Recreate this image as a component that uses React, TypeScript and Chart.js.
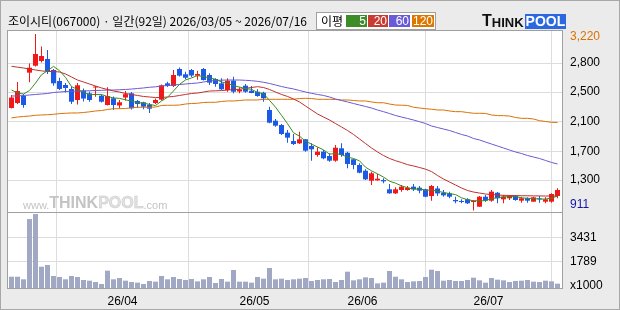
import React, { useEffect, useRef } from "react";
import { Chart, registerables } from "chart.js";

Chart.register(...registerables);

// ---------- data ----------
const titleText = "조이시티(067000) · 일간(92일) 2026/03/05 ~ 2026/07/16";
const legendTitle = "이평";
const maLabels = ["5", "20", "60", "120"];

const monthTickIndex = [19, 41, 59, 80];
const monthTickLabels = ["26/04", "26/05", "26/06", "26/07"];

const opens = [2252,2317,2409,2714,2805,2867,2893,2749,2605,2553, 2501,2357,2481,2444,2520,2413,2291,2379,2285,2389, 2444,2344,2327,2295,2317,2361,2575,2540,2762,2693, 2749,2675,2762,2684,2631,2575,2487,2609,2468,2544, 2478,2465,2452,2226,2086,2030,1929,1820,1790,1843, 1755,1637,1681,1624,1563,1725,1667,1581,1507,1432, 1301,1306,1310,1189,1136,1180,1180,1223,1210,1189, 1101,1200,1144,1136,1049,1036,1058,1023,961,1092, 1040,1144,1058,1071,1101,1040,1071,1027,1071,1027, 1027,1101];
const highs = [2422,2592,2435,2834,3220,3057,3011,2762,2648,2579, 2533,2579,2507,2468,2540,2429,2523,2403,2357,2474, 2461,2357,2334,2317,2376,2559,2596,2749,2782,2727, 2762,2740,2775,2706,2640,2640,2640,2661,2523,2566, 2540,2497,2465,2269,2108,2043,1964,1912,1942,1847, 1790,1738,1703,1659,1768,1790,1681,1585,1529,1450, 1419,1389,1332,1258,1215,1245,1232,1258,1232,1197, 1245,1232,1180,1158,1092,1058,1071,1045,1101,1114, 1180,1153,1114,1114,1114,1092,1084,1092,1101,1084, 1136,1202];
const lows = [2246,2304,2256,2588,2795,2847,2697,2544,2487,2455, 2304,2298,2337,2334,2400,2324,2285,2226,2246,2350, 2232,2252,2236,2187,2304,2350,2527,2527,2664,2628, 2658,2622,2612,2553,2531,2487,2465,2444,2444,2452, 2444,2400,2334,2052,2008,1899,1798,1768,1781,1681, 1563,1615,1581,1550,1550,1615,1463,1450,1398,1310, 1245,1301,1267,1130,1127,1158,1171,1167,1136,1084, 1040,1101,1092,1071,1006,1006,997,911,961,1027, 1027,1006,1006,1049,1040,1014,1014,1027,1014,1006, 1014,1071];
const closes = [2389,2474,2291,2779,2958,2932,2736,2575,2501,2514, 2334,2549,2376,2357,2531,2334,2409,2291,2327,2433, 2248,2304,2269,2243,2357,2549,2540,2684,2675,2648, 2677,2697,2618,2583,2566,2497,2609,2465,2494,2465, 2448,2409,2379,2060,2021,1912,1864,1781,1843,1694, 1712,1681,1594,1563,1733,1637,1520,1507,1406,1319, 1398,1327,1293,1136,1189,1223,1210,1189,1171,1092, 1232,1135,1110,1092,1032,1023,1006,1040,1092,1040, 1158,1071,1092,1101,1049,1071,1040,1084,1058,1058, 1127,1180];
// volume in thousands
const volumes = [766,766,590,4680,5020,1445,1560,814,746,590, 814,746,542,497,407,271,1175,590,678,497, 407,362,271,475,430,814,590,746,610,542, 610,452,590,746,340,610,430,1220,430,430, 362,746,633,1356,590,633,542,590,633,678, 475,542,590,610,407,542,1107,520,590,723, 678,316,362,1152,766,590,407,452,475,746, 1243,1152,497,542,475,475,542,701,520,362, 678,565,520,407,475,497,542,430,407,497, 452,294];

const ma5 = [2487,2450,2435,2480,2578,2687,2739,2796,2740,2652, 2532,2495,2455,2426,2429,2429,2401,2384,2378,2359, 2342,2321,2316,2299,2284,2344,2392,2475,2561,2619, 2645,2676,2663,2645,2628,2592,2575,2544,2526,2506, 2496,2456,2439,2352,2263,2156,2047,1928,1884,1819, 1779,1742,1705,1649,1657,1642,1609,1592,1561,1478, 1430,1391,1349,1295,1269,1234,1210,1189,1196,1177, 1179,1164,1148,1132,1120,1078,1053,1039,1039,1040, 1067,1080,1091,1092,1094,1077,1071,1069,1060,1062, 1073,1101];
const ma20 = [2797,2786,2775,2762,2749,2738,2729,2729,2723,2697, 2658,2618,2592,2566,2540,2514,2494,2474,2461,2442, 2429,2416,2403,2396,2389,2389,2396,2403,2416,2429, 2442,2448,2461,2474,2477,2480,2487,2493,2497,2510, 2520,2531,2520,2494,2461,2429,2403,2370,2331,2278, 2226,2174,2134,2095,2049,2004,1958,1906,1847,1788, 1729,1677,1631,1592,1563,1539,1511,1494,1474,1452, 1421,1369,1323,1284,1245,1206,1173,1153,1140,1127, 1121,1114,1110,1108,1106,1105,1104,1103,1102,1101, 1101,1100];
const ma60 = [2409,2409,2416,2422,2429,2435,2442,2455,2461,2468, 2471,2474,2474,2478,2481,2483,2487,2487,2491,2494, 2500,2507,2514,2523,2529,2540,2546,2553,2559,2566, 2573,2579,2592,2605,2612,2616,2618,2618,2618,2614, 2609,2601,2588,2573,2553,2533,2516,2501,2481,2461, 2444,2429,2416,2396,2370,2350,2331,2311,2291,2272, 2252,2226,2204,2180,2154,2134,2115,2095,2073,2049, 2017,1997,1977,1958,1932,1906,1886,1853,1834,1807, 1781,1755,1729,1703,1677,1657,1631,1611,1592,1566, 1540,1520];
const ma120 = [2122,2134,2141,2147,2157,2161,2164,2170,2178,2183, 2187,2187,2193,2202,2213,2219,2232,2243,2243,2246, 2255,2262,2262,2262,2265,2285,2288,2288,2291,2304, 2311,2314,2324,2327,2327,2337,2344,2344,2350,2357, 2357,2357,2366,2366,2366,2366,2366,2366,2376,2379, 2376,2366,2366,2366,2363,2357,2357,2350,2344,2344, 2331,2321,2321,2304,2291,2289,2285,2262,2252,2243, 2236,2226,2226,2213,2204,2204,2193,2183,2183,2181, 2161,2152,2152,2147,2128,2117,2117,2108,2086,2076, 2065,2063];

// grid positions of the price axis; the original prints them rounded to 100
const priceTickValues = [2840, 2460, 2070, 1680, 1310];
const priceTickLabels = ["2,800", "2,500", "2,100", "1,700", "1,300"];
const priceMax = 3220;
const priceMaxLabel = "3,220";
const priceMin = 911;
const priceMinLabel = "911";
const volumeTickValues = [3431, 1789];
const volumeTickLabels = ["3431", "1789"];
const volumeUnitLabel = "x1000";

// ---------- styles ----------
const UP = "#f01818";
const DOWN = "#1a5ae6";
const MA_COLORS = ["#3c8c1e", "#c0302c", "#6a5ad2", "#dc7000"];
const LEGEND_COLORS = ["#3c8c28", "#c83c32", "#6a5ad8", "#dc7800"];
const VOL_COLOR = "#a0a8c4";
const GRID = "#dcdcdc";
const BORDER = "#a0a0a0";
const AXIS_FAMILY = '"Liberation Sans", Arial, sans-serif';
const KR_FAMILY = '"Noto Sans CJK KR", "Noto Sans", sans-serif';

const X_MIN = -1 / 12;
const X_MAX = 92.25;

function frameRect(chart: any) {
  const { ctx, chartArea: a } = chart;
  ctx.save();
  ctx.strokeStyle = BORDER;
  ctx.lineWidth = 1;
  ctx.strokeRect(a.left - 0.5, a.top - 0.5, a.right - a.left + 1, a.bottom - a.top + 1);
  ctx.restore();
}

export default function App() {
  const priceRef = useRef<HTMLCanvasElement>(null);
  const volRef = useRef<HTMLCanvasElement>(null);

  useEffect(() => {
    const idx = closes.map((_, i) => i);
    const candleColors = idx.map((i) => (closes[i] >= opens[i] ? UP : DOWN));
    const xs = idx.map((i) => i + 0.5);
    const maSeries = [ma5, ma20, ma60, ma120];

    const priceExtras = {
      id: "priceExtras",
      afterDraw(chart: any) {
        const { ctx, chartArea: a, scales } = chart;
        const y = scales.y;
        ctx.save();
        ctx.font = `12px ${AXIS_FAMILY}`;
        ctx.textBaseline = "middle";
        ctx.textAlign = "left";
        ctx.fillStyle = "#dc7000";
        ctx.fillText(priceMaxLabel, a.right + 8, Math.max(y.getPixelForValue(priceMax), a.top + 6));
        ctx.fillStyle = "#1414a8";
        ctx.fillText(priceMinLabel, a.right + 8, Math.min(y.getPixelForValue(priceMin), a.bottom - 7));
        ctx.restore();
        frameRect(chart);
      },
    };

    const volExtras = {
      id: "volExtras",
      afterDraw(chart: any) {
        const { ctx, chartArea: a } = chart;
        ctx.save();
        ctx.font = `12px ${AXIS_FAMILY}`;
        ctx.textBaseline = "middle";
        ctx.textAlign = "left";
        ctx.fillStyle = "#000";
        ctx.fillText(volumeUnitLabel, a.right + 8, a.bottom - 2);
        ctx.restore();
        frameRect(chart);
      },
    };

    const xScaleBase = (showLabels: boolean, height: number) => ({
      type: "linear" as const,
      min: X_MIN,
      max: X_MAX,
      offset: false,
      afterBuildTicks: (s: any) => {
        s.ticks = monthTickIndex.map((v) => ({ value: v }));
      },
      afterFit: (s: any) => {
        s.height = height;
      },
      ticks: {
        display: showLabels,
        autoSkip: false,
        maxRotation: 0,
        padding: 6,
        color: "#000",
        font: { family: AXIS_FAMILY, size: 12 },
        callback: (_v: any, i: number) => monthTickLabels[i],
      },
      grid: { color: GRID, lineWidth: 1, drawTicks: false },
      border: { display: false },
    });

    const lineDatasets = maSeries.map((s, k) => ({
      type: "line" as const,
      data: idx.map((i) => ({ x: xs[i], y: s[i] })),
      borderColor: MA_COLORS[k],
      borderWidth: 1,
      pointRadius: 0,
      tension: 0,
      fill: false,
      order: k,
    }));

    const price = new Chart(priceRef.current!, {
      type: "bar",
      data: {
        datasets: [
          ...lineDatasets,
          {
            type: "bar",
            data: idx.map((i) => ({ x: xs[i], y: [opens[i], closes[i]] })) as any,
            backgroundColor: candleColors,
            borderWidth: 0,
            barThickness: 5,
            minBarLength: 1,
            grouped: false,
            inflateAmount: 0,
            order: 10,
          } as any,
          {
            type: "bar",
            data: idx.map((i) => ({ x: xs[i], y: [lows[i], highs[i]] })) as any,
            backgroundColor: candleColors,
            borderWidth: 0,
            barThickness: 1,
            grouped: false,
            inflateAmount: 0,
            order: 11,
          } as any,
        ],
      },
      options: {
        animation: false,
        responsive: false,
        maintainAspectRatio: false,
        events: [],
        layout: { padding: { left: 8, top: 31, right: 0, bottom: 98 } },
        plugins: { legend: { display: false }, tooltip: { enabled: false } },
        scales: {
          x: xScaleBase(false, 0) as any,
          y: {
            type: "linear",
            position: "right",
            min: 892,
            max: 3259,
            afterBuildTicks: (s: any) => {
              s.ticks = priceTickValues.map((v) => ({ value: v }));
            },
            afterFit: (s: any) => {
              s.width = 58;
            },
            ticks: {
              padding: 8,
              color: "#000",
              font: { family: AXIS_FAMILY, size: 12 },
              callback: (_v: any, i: number) => priceTickLabels[i],
            },
            grid: { color: GRID, lineWidth: 1, drawTicks: false },
            border: { display: false },
          },
        },
      },
      plugins: [priceExtras],
    });

    const vol = new Chart(volRef.current!, {
      type: "bar",
      data: {
        datasets: [
          {
            data: idx.map((i) => ({ x: xs[i], y: volumes[i] })) as any,
            backgroundColor: VOL_COLOR,
            borderWidth: 0,
            barThickness: 5,
            grouped: false,
            inflateAmount: 0,
          } as any,
        ],
      },
      options: {
        animation: false,
        responsive: false,
        maintainAspectRatio: false,
        events: [],
        layout: { padding: { left: 8, top: 213, right: 0, bottom: 0 } },
        plugins: { legend: { display: false }, tooltip: { enabled: false } },
        scales: {
          x: xScaleBase(true, 22) as any,
          y: {
            type: "linear",
            position: "right",
            min: 0,
            max: 5090,
            afterBuildTicks: (s: any) => {
              s.ticks = volumeTickValues.map((v) => ({ value: v }));
            },
            afterFit: (s: any) => {
              s.width = 58;
            },
            ticks: {
              padding: 8,
              color: "#000",
              font: { family: AXIS_FAMILY, size: 12 },
              callback: (_v: any, i: number) => volumeTickLabels[i],
            },
            grid: { color: GRID, lineWidth: 1, drawTicks: false },
            border: { display: false },
          },
        },
      },
      plugins: [volExtras],
    });

    return () => {
      price.destroy();
      vol.destroy();
    };
  }, []);

  const abs = (s: React.CSSProperties): React.CSSProperties => ({ position: "absolute", ...s });
  const boxLefts = [346, 368, 389, 412];
  const boxWidths = [21, 20, 21, 22];

  return (
    <div
      style={{
        position: "fixed",
        left: 0,
        top: 0,
        width: 620,
        height: 310,
        background: "#ebebeb",
        overflow: "hidden",
        boxSizing: "border-box",
        border: "1px solid #a8a8a8",
      }}
    >
      <div style={abs({ left: 6, top: 29, width: 556, height: 259, background: "#fff" })} />
      <canvas ref={priceRef} width={620} height={310} style={abs({ left: -1, top: -1, width: 620, height: 310 })} />
      <canvas ref={volRef} width={620} height={310} style={abs({ left: -1, top: -1, width: 620, height: 310 })} />

      {/* title */}
      <div
        style={abs({
          left: 7,
          top: 11,
          fontFamily: KR_FAMILY,
          fontSize: 12,
          lineHeight: "18px",
          color: "#000",
          whiteSpace: "nowrap",
        })}
      >
        {titleText}
      </div>

      {/* legend */}
      <div
        style={abs({
          left: 315,
          top: 11,
          width: 118,
          height: 16,
          background: "#fff",
          border: "1px solid #a0a0a0",
        })}
      />
      <div style={abs({ left: 320, top: 11, fontFamily: KR_FAMILY, fontSize: 12, lineHeight: "18px", color: "#000" })}>
        {legendTitle}
      </div>
      {maLabels.map((t, k) => (
        <div
          key={t}
          style={abs({
            left: boxLefts[k] - 1,
            top: 14,
            width: boxWidths[k],
            height: 12,
            background: LEGEND_COLORS[k],
            color: "#fff",
            fontFamily: AXIS_FAMILY,
            fontSize: 12,
            lineHeight: "12px",
            textAlign: "right",
            paddingRight: 1,
            boxSizing: "border-box",
          })}
        >
          {t}
        </div>
      ))}

      {/* logo */}
      <div
        style={abs({
          left: 481,
          top: 12,
          height: 16,
          display: "flex",
          alignItems: "flex-end",
          fontFamily: AXIS_FAMILY,
          fontWeight: 900,
          color: "#111",
          lineHeight: 1,
          whiteSpace: "nowrap",
        })}
      >
        <span style={{ fontSize: 16 }}>T</span>
        <span style={{ fontSize: 13 }}>HINK</span>
        <span
          style={{
            fontSize: 14,
            background: "#2c68e0",
            color: "#fff",
            padding: "0 1px",
            marginLeft: 1,
            lineHeight: "15px",
          }}
        >
          POOL
        </span>
      </div>

      {/* watermark */}
      <div
        style={abs({
          left: 22,
          top: 193,
          height: 17,
          display: "flex",
          alignItems: "flex-end",
          fontFamily: AXIS_FAMILY,
          color: "#c4c4c4",
          lineHeight: 1,
          whiteSpace: "nowrap",
        })}
      >
        <span style={{ fontSize: 11 }}>www.</span>
        <span style={{ fontSize: 16, fontWeight: 900 }}>THINK</span>
        <span style={{ fontSize: 16, fontWeight: 900, color: "#e2e2e2", WebkitTextStroke: "0.5px #c8c8c8" }}>POOL</span>
        <span style={{ fontSize: 11 }}>.com</span>
      </div>
    </div>
  );
}
